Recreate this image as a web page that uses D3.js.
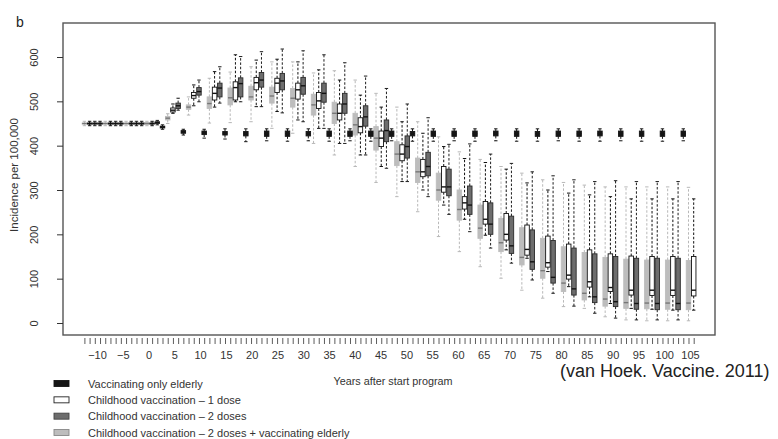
<!DOCTYPE html>
<html>
<head>
<meta charset="utf-8">
<script src="https://cdn.jsdelivr.net/npm/d3@7"></script>
<style>
  body { margin: 0; background: #fff; }
  text { font-family: "Liberation Sans", Arial, sans-serif; }
</style>
</head>
<body>
<div id="chart"></div>
<script>
// 1. data: one row per time point, [lower whisker, q1, median, q3, upper whisker]
const yearLabels = [-10, -5, 0, 5, 10, 15, 20, 25, 30, 35, 40, 45, 50, 55, 60, 65, 70, 75, 80, 85, 90, 95, 100, 105]
const yTickValues = [0, 100, 200, 300, 400, 500, 600]

const elderlyOnly = [
  [445,449,450,451,455],[445,449,450,451,455],[445,449,450,451,455],[437,440,442,444,447],
  [424,428,431,434,437],[417,425,429,433,437],[415,424,428,432,438],[409,422,427,432,438],
  [411,421,427,433,438],[410,421,427,433,438],[411,422,427,432,438],[410,421,427,433,438],
  [411,421,428,433,438],[410,421,427,433,438],[411,421,427,433,438],[410,422,427,432,438],
  [410,421,427,433,438],[411,421,427,433,438],[410,421,427,433,438],[411,422,427,433,438],
  [410,421,427,433,438],[410,421,427,432,438],[411,421,427,433,438],[410,421,427,433,438],
  [410,422,427,433,438],[411,421,427,433,438],[410,421,427,433,438],[410,421,427,433,438],
  [411,421,427,433,438], null
]
const oneDose = [
  [445,449,450,451,455],[445,449,450,451,455],[445,449,450,451,455],[445,449,450,451,455],
  [473,476,480,485,494],[490,507,513,520,537],[487,503,518,532,567],[499,503,531,544,605],
  [488,526,542,554,593],[477,520,541,552,595],[458,505,526,541,589],[439,484,501,520,571],
  [405,458,473,494,548],[379,429,443,463,514],[353,398,417,433,487],[319,366,381,402,454],
  [300,330,341,369,428],[266,295,307,353,398],[234,257,271,285,371],[198,223,234,274,362],
  [165,187,200,247,347],[146,153,166,221,316],[116,126,136,196,300],[82,99,108,178,293],
  [59,81,93,165,289],[44,71,80,156,285],[33,63,74,151,280],[31,62,74,150,280],
  [29,62,74,150,280],[29,61,74,150,280]
]
const twoDoses = [
  [445,449,450,451,455],[445,449,450,451,455],[445,449,450,451,455],[447,450,452,454,457],
  [480,484,490,496,507],[499,514,522,531,548],[496,510,530,541,578],[499,510,540,553,601],
  [488,532,548,565,612],[474,526,546,563,618],[454,516,535,554,614],[439,498,518,541,605],
  [405,473,494,518,587],[379,444,465,490,557],[349,409,434,458,529],[319,372,398,422,494],
  [285,332,353,385,463],[245,287,307,347,403],[206,245,266,309,404],[169,200,223,271,381],
  [135,157,174,241,360],[97,121,138,210,341],[67,90,103,186,332],[38,63,77,169,323],
  [22,46,59,156,319],[11,37,48,150,321],[7,31,44,146,319],[7,30,44,146,319],
  [7,30,44,146,319], null
]
const twoDosesElderly = [
  [445,449,450,451,455],[445,449,450,451,455],[445,449,450,451,455],[445,448,450,452,455],
  [450,458,462,466,472],[469,482,487,492,510],[451,484,495,510,552],[452,492,508,530,566],
  [454,503,510,534,578],[439,496,512,532,589],[428,487,507,529,589],[405,469,492,516,564],
  [379,450,473,498,569],[353,424,447,473,548],[317,390,417,443,518],[285,355,381,409,487],
  [251,317,341,372,454],[195,277,300,338,420],[161,232,256,300,386],[127,191,214,266,369],
  [101,161,181,236,353],[74,131,148,215,338],[56,101,118,191,323],[37,71,90,172,317],
  [33,52,67,159,311],[14,38,54,148,307],[7,33,46,144,307],[5,32,45,142,307],
  [5,31,45,142,307],[5,30,45,141,306]
]

// order inside each time point: light, white, dark, black
const series = [
  { stats: twoDosesElderly, fill: "#bdbdbd", stroke: "#bdbdbd", whisker: "#b8b8b8", median: "#777" },
  { stats: oneDose, fill: "#fff", stroke: "#111", whisker: "#111", median: "#111" },
  { stats: twoDoses, fill: "#6d6d6d", stroke: "#2a2a2a", whisker: "#1e1e1e", median: "#111" },
  { stats: elderlyOnly, fill: "#151515", stroke: "#151515", whisker: "#151515", median: "#151515" },
]

const legendItems = [
  { label: "Vaccinating only elderly", fill: "#151515", stroke: "#151515" },
  { label: "Childhood vaccination \u2013 1 dose", fill: "#fff", stroke: "#222" },
  { label: "Childhood vaccination \u2013 2 doses", fill: "#6d6d6d", stroke: "#444" },
  { label: "Childhood vaccination \u2013 2 doses + vaccinating elderly", fill: "#bdbdbd", stroke: "#888" },
]

// 2. dimensions
const dimensions = {
  width: 778,
  height: 439,
  frame: { left: 63, top: 23, right: 715, bottom: 335 },
}

// 3. canvas
const wrapper = d3.select("#chart")
  .append("svg")
    .attr("width", dimensions.width)
    .attr("height", dimensions.height)

// 4. scales
const slotsPerGroup = series.length
const boxes = []
series.forEach((s, i) => {
  s.stats.forEach((st, g) => {
    if (st) boxes.push({ slot: g * slotsPerGroup + i, st: st, s: s })
  })
})
const lastSlot = d3.max(boxes, d => d.slot)

const xScale = d3.scaleLinear()
  .domain([0, lastSlot])
  .range([84.4, 693.7])

const yearScale = d3.scaleLinear()
  .domain([-10, 105])
  .range([97, 690])

const yScale = d3.scaleLinear()
  .domain([0, 600])
  .range([323, 57])

// 5. draw data
const boxW = 4.5
const capW = 1.7

const boxG = wrapper.append("g")
  .selectAll("g")
  .data(boxes)
  .enter()
  .append("g")

boxG.append("line")
  .attr("x1", d => xScale(d.slot))
  .attr("x2", d => xScale(d.slot))
  .attr("y1", d => yScale(d.st[3]))
  .attr("y2", d => yScale(d.st[4]))
  .attr("stroke", d => d.s.whisker)
  .attr("stroke-width", 1)
  .attr("stroke-dasharray", "2.5,1.8")

boxG.append("line")
  .attr("x1", d => xScale(d.slot))
  .attr("x2", d => xScale(d.slot))
  .attr("y1", d => yScale(d.st[1]))
  .attr("y2", d => yScale(d.st[0]))
  .attr("stroke", d => d.s.whisker)
  .attr("stroke-width", 1)
  .attr("stroke-dasharray", "2.5,1.8")

boxG.selectAll("line.cap")
  .data(d => [d.st[0], d.st[4]].map(v => ({ v: v, d: d })))
  .enter()
  .append("line")
    .attr("class", "cap")
    .attr("x1", c => xScale(c.d.slot) - capW)
    .attr("x2", c => xScale(c.d.slot) + capW)
    .attr("y1", c => yScale(c.v))
    .attr("y2", c => yScale(c.v))
    .attr("stroke", c => c.d.s.whisker)
    .attr("stroke-width", 1)

boxG.append("rect")
  .attr("x", d => xScale(d.slot) - boxW / 2)
  .attr("width", boxW)
  .attr("y", d => yScale(d.st[3]))
  .attr("height", d => Math.max(1, yScale(d.st[1]) - yScale(d.st[3])))
  .attr("fill", d => d.s.fill)
  .attr("stroke", d => d.s.stroke)
  .attr("stroke-width", 0.9)

boxG.append("line")
  .attr("x1", d => xScale(d.slot) - boxW / 2)
  .attr("x2", d => xScale(d.slot) + boxW / 2)
  .attr("y1", d => yScale(d.st[2]))
  .attr("y2", d => yScale(d.st[2]))
  .attr("stroke", d => d.s.median)
  .attr("stroke-width", 1.4)

// 6. peripherals
const f = dimensions.frame
wrapper.append("rect")
  .attr("x", f.left)
  .attr("y", f.top)
  .attr("width", f.right - f.left)
  .attr("height", f.bottom - f.top)
  .attr("fill", "none")
  .attr("stroke", "#555")
  .attr("stroke-width", 1.4)

const yAxis = wrapper.append("g")
  .attr("transform", `translate(${f.left},0)`)
  .call(d3.axisLeft(yScale).tickValues(yTickValues).tickSize(6))
yAxis.select(".domain").remove()
yAxis.selectAll("line").attr("stroke", "#333")
yAxis.selectAll("text")
  .attr("transform", "rotate(-90)")
  .attr("x", 0)
  .attr("y", -25)
  .attr("dy", 0)
  .attr("text-anchor", "middle")
  .attr("font-size", 11)
  .attr("fill", "#333")
  .style("font-family", "'Liberation Sans', Arial, sans-serif")

const xTicks = wrapper.append("g")
  .attr("transform", "translate(0,338)")
  .call(d3.axisBottom(xScale).tickValues(boxes.map(d => d.slot)).tickSize(6).tickFormat(""))
xTicks.select(".domain").remove()
xTicks.selectAll("line").attr("stroke", "#333").attr("stroke-width", 0.8)

const xLabels = wrapper.append("g")
  .attr("transform", "translate(0,348)")
  .call(d3.axisBottom(yearScale).tickValues(yearLabels).tickSize(0).tickPadding(3))
xLabels.select(".domain").remove()
xLabels.selectAll("text")
  .attr("font-size", 11)
  .attr("fill", "#333")
  .style("font-family", "'Liberation Sans', Arial, sans-serif")

wrapper.append("text")
  .attr("transform", "translate(18,175) rotate(-90)")
  .attr("text-anchor", "middle")
  .attr("font-size", 11.5)
  .attr("fill", "#333")
  .text("Incidence per 100,000")

wrapper.append("text")
  .attr("x", 393)
  .attr("y", 385)
  .attr("text-anchor", "middle")
  .attr("font-size", 10.8)
  .attr("fill", "#333")
  .text("Years after start program")

wrapper.append("text")
  .attr("x", 16)
  .attr("y", 27)
  .attr("font-size", 14)
  .attr("fill", "#222")
  .text("b")

wrapper.append("text")
  .attr("x", 560)
  .attr("y", 377)
  .attr("font-size", 18)
  .attr("fill", "#222")
  .text("(van Hoek. Vaccine. 2011)")

// legend
const legendY = d3.scaleLinear().domain([0, 3]).range([383.5, 432.5])
const legend = wrapper.append("g")
  .selectAll("g")
  .data(legendItems)
  .enter()
  .append("g")
    .attr("transform", (d, i) => `translate(0,${legendY(i)})`)

legend.append("rect")
  .attr("x", 54)
  .attr("y", -3)
  .attr("width", 15)
  .attr("height", 6)
  .attr("fill", d => d.fill)
  .attr("stroke", d => d.stroke)
  .attr("stroke-width", 0.9)

legend.append("text")
  .attr("x", 88)
  .attr("y", 4)
  .attr("font-size", 11)
  .attr("fill", "#333")
  .text(d => d.label)
</script>
</body>
</html>
